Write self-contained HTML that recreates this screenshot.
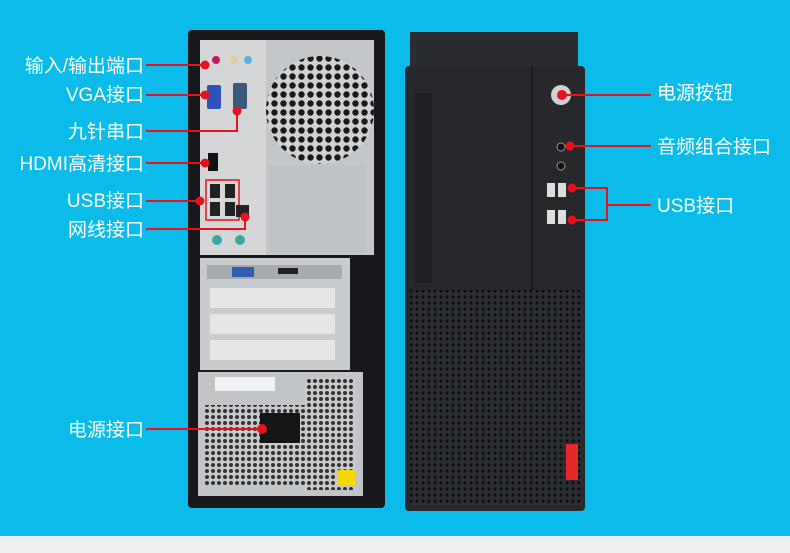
<!DOCTYPE html>
<html><head><meta charset="utf-8"><style>
html,body{margin:0;padding:0;width:790px;height:553px;overflow:hidden;background:#0bbcea}
svg{display:block}
text{font-family:"Liberation Sans","Noto Sans CJK SC",sans-serif;fill:#fff;font-size:19px}
</style></head><body>
<svg width="790" height="553" viewBox="0 0 790 553">
<defs>
<pattern id="hex" width="6" height="6" patternUnits="userSpaceOnUse"><rect width="6" height="6" fill="#2b2e33"/><circle cx="3" cy="3" r="1.6" fill="#0e0f11"/></pattern>
<pattern id="fan" width="9" height="9" patternUnits="userSpaceOnUse"><rect width="9" height="9" fill="#cfd2d5"/><circle cx="4.5" cy="4.5" r="3.2" fill="#1a1a1a"/></pattern>
<pattern id="psu" width="6" height="6" patternUnits="userSpaceOnUse"><rect width="6" height="6" fill="#c8cbce"/><circle cx="3" cy="3" r="2" fill="#333"/></pattern>
</defs>
<rect x="0" y="0" width="790" height="536" fill="#0bbcea"/>
<rect x="0" y="536" width="790" height="17" fill="#eef0f0"/>

<rect x="188" y="30" width="197" height="478" rx="4" fill="#16181b"/>
<rect x="200" y="40" width="66" height="215" fill="#d4d6d8"/>
<rect x="266" y="40" width="108" height="215" fill="#c4c7ca"/>
<circle cx="320" cy="110" r="54" fill="url(#fan)"/>
<rect x="270" y="165" width="95" height="87" fill="#bfc2c6"/>
<rect x="200" y="258" width="150" height="112" fill="#c9cccf"/>
<rect x="207" y="265" width="135" height="14" fill="#a8abae"/>
<rect x="232" y="267" width="22" height="10" fill="#2f5fb0"/>
<rect x="278" y="268" width="20" height="6" fill="#222"/>
<rect x="210" y="288" width="125" height="20" fill="#e3e5e7"/>
<rect x="210" y="314" width="125" height="20" fill="#e3e5e7"/>
<rect x="210" y="340" width="125" height="20" fill="#e3e5e7"/>
<rect x="198" y="372" width="165" height="124" fill="#c2c5c8"/>
<rect x="215" y="377" width="60" height="14" fill="#f3f3f3"/>
<rect x="205" y="405" width="100" height="80" fill="url(#psu)"/>
<rect x="305" y="378" width="50" height="112" fill="url(#psu)"/>
<rect x="260" y="413" width="40" height="30" fill="#151515"/>
<rect x="337" y="470" width="18" height="16" fill="#f4d800"/>
<circle cx="216" cy="60" r="4" fill="#c2185b"/><circle cx="234" cy="60" r="4" fill="#d8d0a0"/><circle cx="248" cy="60" r="4" fill="#5aaee0"/>
<rect x="207" y="85" width="14" height="24" rx="2" fill="#2d52b8"/>
<rect x="233" y="83" width="14" height="26" rx="2" fill="#3a5a7a"/>
<rect x="208" y="153" width="10" height="18" fill="#111"/>
<rect x="206" y="180" width="33" height="40" fill="none" stroke="#e8111c" stroke-width="1.5"/>
<rect x="210" y="184" width="10" height="14" fill="#222"/><rect x="225" y="184" width="10" height="14" fill="#222"/>
<rect x="210" y="202" width="10" height="14" fill="#222"/><rect x="225" y="202" width="10" height="14" fill="#222"/>
<rect x="236" y="205" width="13" height="12" fill="#222"/>
<circle cx="217" cy="240" r="5" fill="#3aa8a8"/><circle cx="240" cy="240" r="5" fill="#3aa8a8"/>

<rect x="410" y="32" width="168" height="35" fill="#2a2c30"/>
<rect x="405" y="66" width="180" height="445" rx="4" fill="#26282c"/>
<rect x="415" y="93" width="17" height="190" fill="#1e2024"/>
<line x1="532" y1="66" x2="532" y2="290" stroke="#1a1c1f" stroke-width="2"/>
<rect x="410" y="290" width="172" height="216" fill="url(#hex)"/>
<rect x="566" y="444" width="12" height="36" fill="#e5282b"/>
<circle cx="561" cy="95" r="10" fill="#d0d0d0"/>
<circle cx="561" cy="147" r="4" fill="#111" stroke="#999"/><circle cx="561" cy="166" r="4" fill="#111" stroke="#999"/>
<rect x="547" y="183" width="8" height="14" fill="#ddd"/><rect x="558" y="183" width="8" height="14" fill="#ddd"/>
<rect x="547" y="210" width="8" height="14" fill="#ddd"/><rect x="558" y="210" width="8" height="14" fill="#ddd"/>

<g stroke="#e8111c" stroke-width="2" fill="none">
<line x1="146" y1="65" x2="205" y2="65"/>
<line x1="146" y1="95" x2="205" y2="95"/>
<polyline points="146,131 237,131 237,112"/>
<line x1="146" y1="163" x2="205" y2="163"/>
<line x1="146" y1="201" x2="200" y2="201"/>
<polyline points="146,229 245,229 245,217"/>
<line x1="146" y1="429" x2="262" y2="429"/>
<line x1="562" y1="95" x2="651" y2="95"/>
<line x1="570" y1="146" x2="651" y2="146"/>
<polyline points="572,188 607,188 607,220 572,220"/>
<line x1="607" y1="205" x2="651" y2="205"/>
</g>
<g fill="#e8111c">
<circle cx="205" cy="65" r="4.5"/><circle cx="205" cy="95" r="4.5"/><circle cx="237" cy="111" r="4.5"/>
<circle cx="205" cy="163" r="4.5"/><circle cx="200" cy="201" r="4.5"/><circle cx="245" cy="217" r="4.5"/>
<circle cx="262" cy="429" r="5"/><circle cx="562" cy="95" r="5"/><circle cx="570" cy="146" r="4.5"/>
<circle cx="572" cy="188" r="4.5"/><circle cx="572" cy="220" r="4.5"/>
</g>

<g text-anchor="end">
<text x="144" y="72">输入/输出端口</text>
<text x="144" y="101">VGA接口</text>
<text x="144" y="138">九针串口</text>
<text x="144" y="170">HDMI高清接口</text>
<text x="144" y="207">USB接口</text>
<text x="144" y="236">网线接口</text>
<text x="144" y="436">电源接口</text>
</g>
<text x="657" y="99">电源按钮</text>
<text x="657" y="153">音频组合接口</text>
<text x="657" y="212">USB接口</text>
</svg>
</body></html>
